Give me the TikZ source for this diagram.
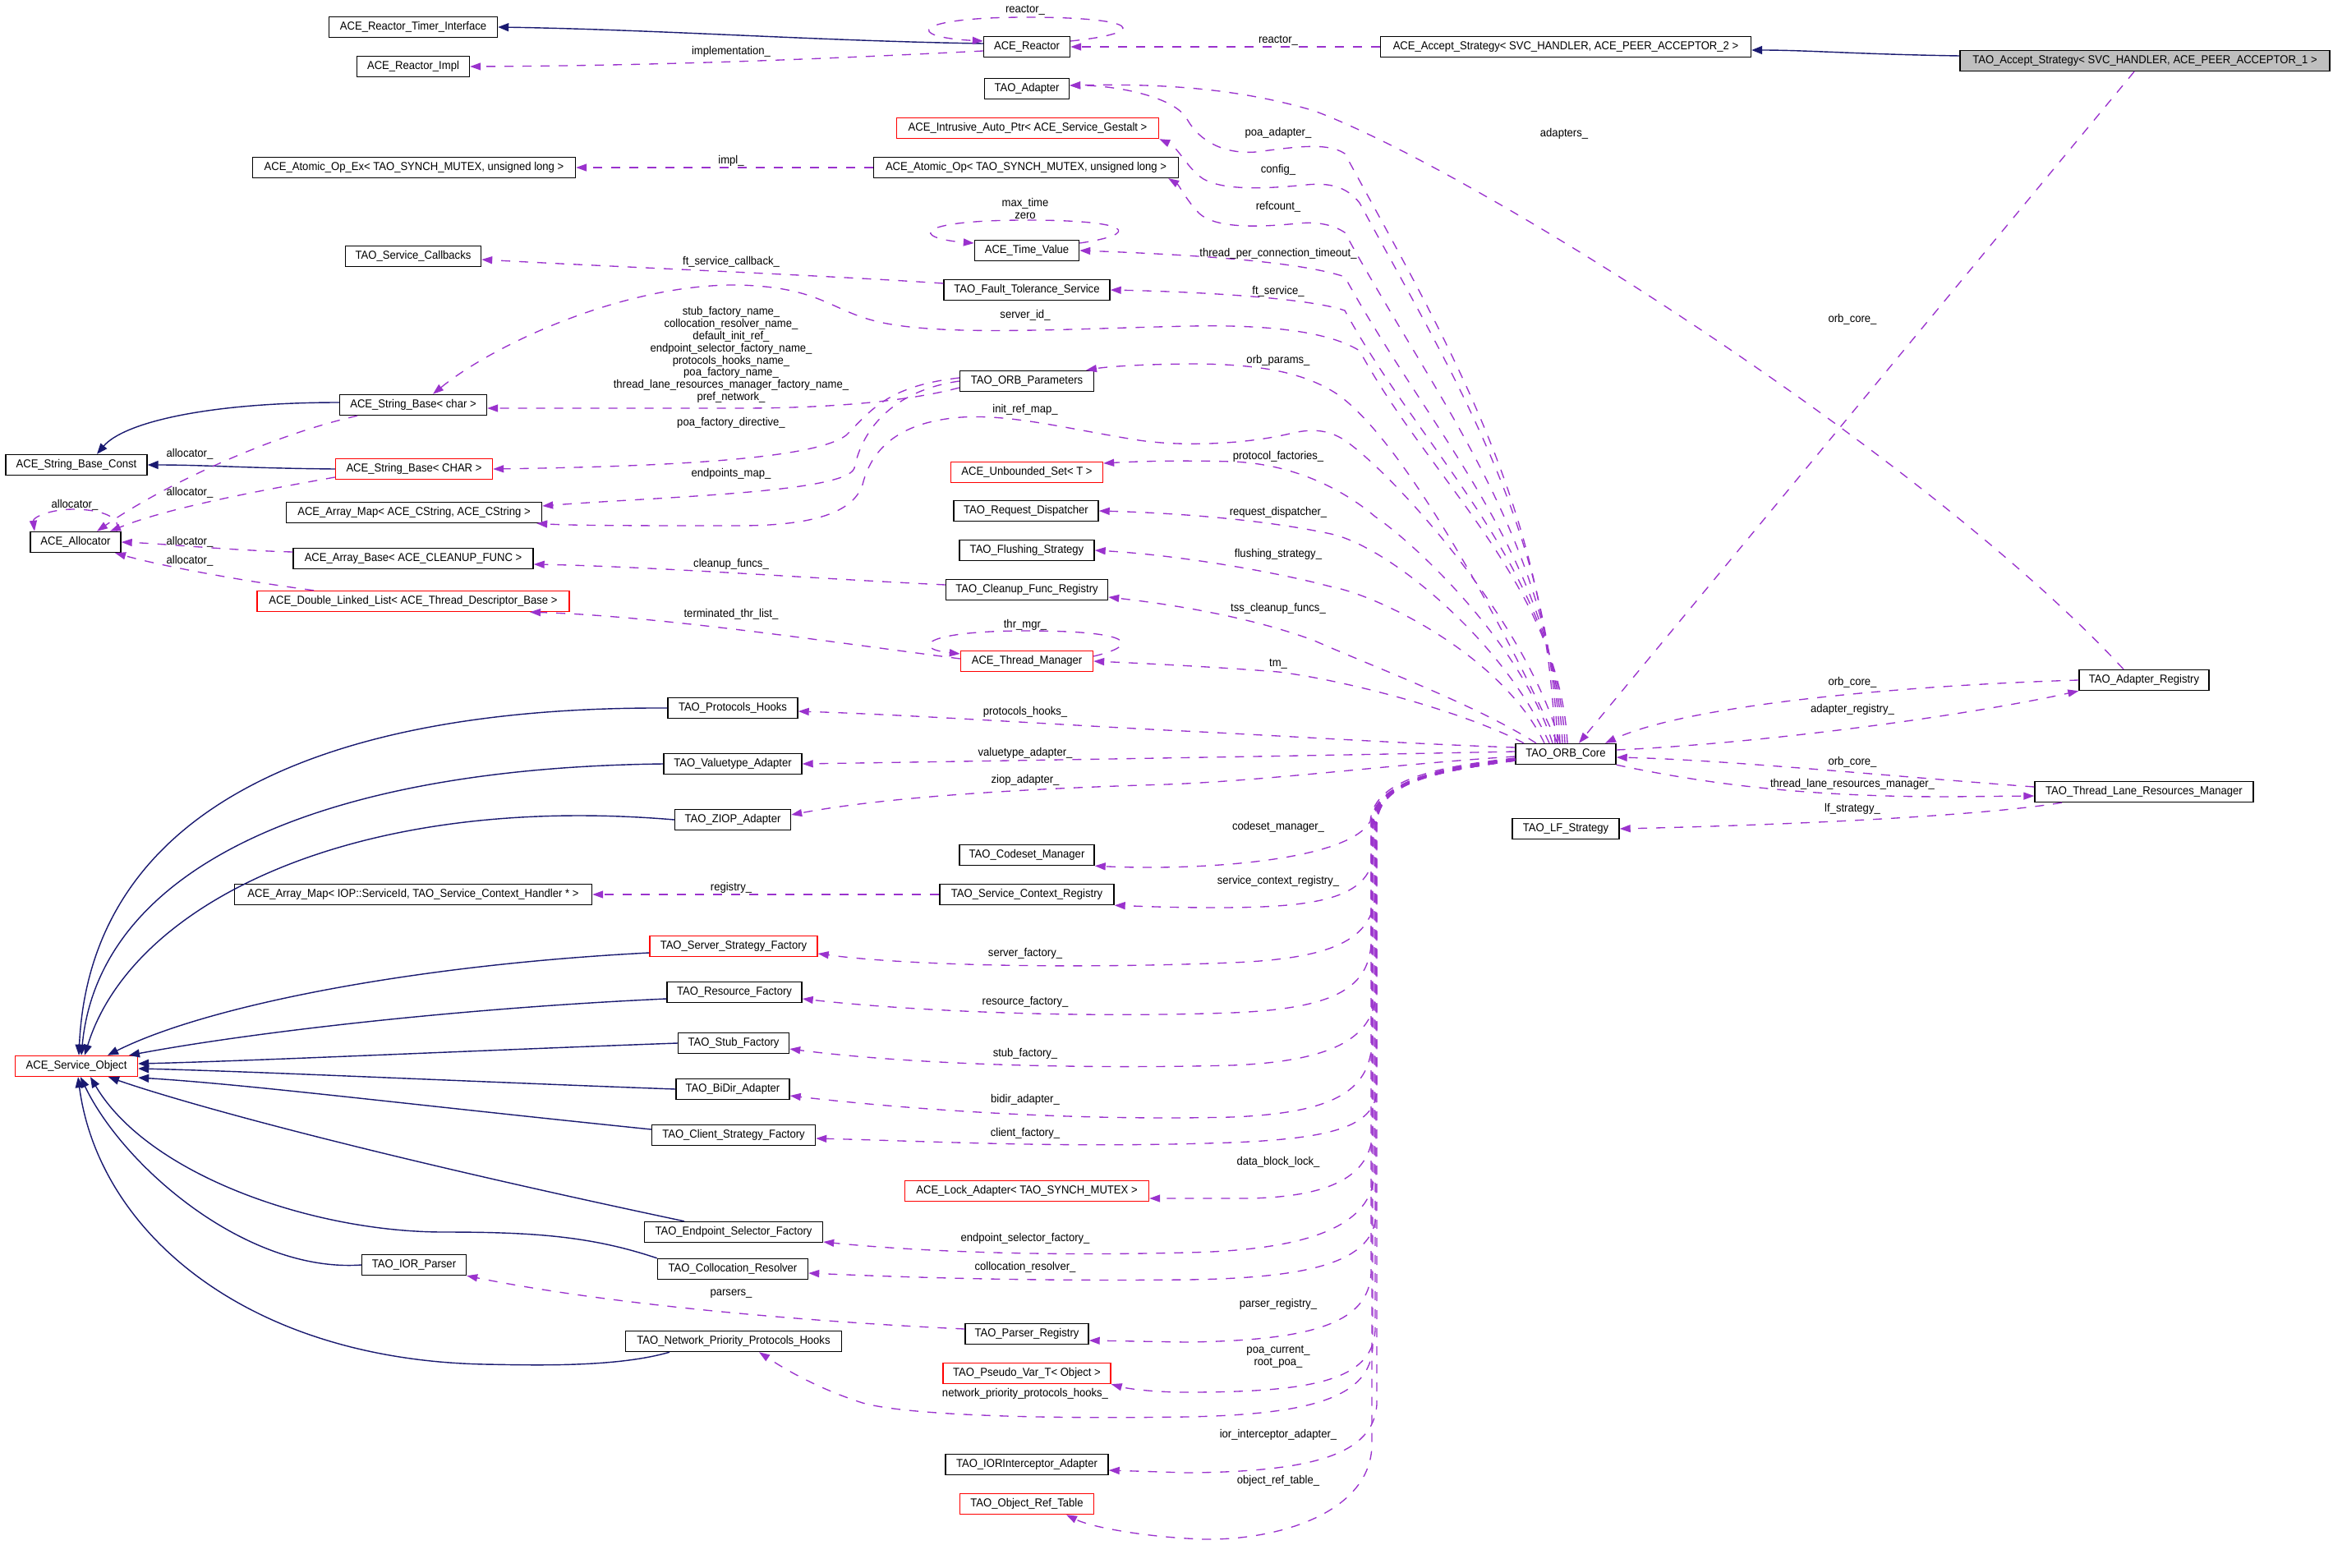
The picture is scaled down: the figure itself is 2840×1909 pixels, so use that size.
\documentclass[tikz,border=0pt]{standalone}
\usepackage{fontspec}
\newfontfamily\dxfont{Liberation Sans}[FakeStretch=0.93]
\usepackage{xcolor}
\definecolor{edgepurple}{HTML}{9A32CD}
\definecolor{dxnavy}{HTML}{191970}
\definecolor{boxred}{HTML}{FF0000}
\definecolor{focusgray}{HTML}{BFBFBF}
\usepackage{tikz}
\usetikzlibrary{arrows.meta}
\tikzset{
    cls/.style = {rectangle, draw=black, fill=white, line width=0.4pt,
                  minimum height=2.5mm, inner xsep=1mm, inner ysep=0pt,
                  font=\dxfont\fontsize{4}{4.2}\selectfont},
    clsred/.style = {cls, draw=boxred},
    clsfocus/.style = {cls, fill=focusgray},
    lbl/.style = {inner sep=0pt, align=center, font=\dxfont\fontsize{4}{4.2}\selectfont},
    member/.style = {draw=edgepurple, line width=0.38pt, dash pattern=on 1.1mm off 1.1mm,
                     -{Triangle[length=1.3mm, width=0.9mm]}},
    inherit/.style = {draw=dxnavy, line width=0.4pt, -{Triangle[length=1.3mm, width=1mm]}},
}

\begin{document}
\begin{tikzpicture}[x=0.1mm, y=-0.1mm]
        \fill[white] (0,0) rectangle (2840,1909);
        \useasboundingbox (0,0) rectangle (2840,1909);
        % top block
        \node[cls, minimum width=20.5mm] (timer) at (503,33) {ACE\_Reactor\_Timer\_Interface};
        \node[cls, minimum width=13.7mm] (rimpl) at (503,81) {ACE\_Reactor\_Impl};
        \node[cls, minimum width=10.5mm] (reactor) at (1250,57) {ACE\_Reactor};
        \node[cls, minimum width=45.1mm] (acceptace) at (1906,57) {ACE\_Accept\_Strategy< SVC\_HANDLER, ACE\_PEER\_ACCEPTOR\_2 >};
        \node[clsfocus, minimum width=45mm] (accepttao) at (2611,74) {TAO\_Accept\_Strategy< SVC\_HANDLER, ACE\_PEER\_ACCEPTOR\_1 >};
        \node[cls, minimum width=10.3mm] (adapter) at (1250,108) {TAO\_Adapter};
        \node[clsred, minimum width=31.9mm] (autoptr) at (1251,156) {ACE\_Intrusive\_Auto\_Ptr< ACE\_Service\_Gestalt >};
        \node[cls, minimum width=39.3mm] (atomicex) at (504,204) {ACE\_Atomic\_Op\_Ex< TAO\_SYNCH\_MUTEX, unsigned long >};
        \node[cls, minimum width=37.1mm] (atomic) at (1249,204) {ACE\_Atomic\_Op< TAO\_SYNCH\_MUTEX, unsigned long >};
        \node[cls, minimum width=12.7mm] (timeval) at (1250,305) {ACE\_Time\_Value};
        \node[cls, minimum width=16.5mm] (svccb) at (503,312) {TAO\_Service\_Callbacks};
        \node[cls, minimum width=20.2mm] (ftsvc) at (1250,353) {TAO\_Fault\_Tolerance\_Service};
        \node[cls, minimum width=16.3mm] (orbparams) at (1250,464) {TAO\_ORB\_Parameters};
        % strings and allocator
        \node[cls, minimum width=17.9mm] (strchar) at (503,493) {ACE\_String\_Base< char >};
        \node[cls, minimum width=17.2mm] (strconst) at (93,566) {ACE\_String\_Base\_Const};
        \node[clsred, minimum width=19.1mm] (strCHAR) at (504,571) {ACE\_String\_Base< CHAR >};
        \node[cls, minimum width=31.1mm] (amapstr) at (504,624) {ACE\_Array\_Map< ACE\_CString, ACE\_CString >};
        \node[cls, minimum width=11mm] (alloc) at (92,660) {ACE\_Allocator};
        \node[cls, minimum width=29.2mm] (abase) at (503,680) {ACE\_Array\_Base< ACE\_CLEANUP\_FUNC >};
        \node[clsred, minimum width=38mm] (dll) at (503,732) {ACE\_Double\_Linked\_List< ACE\_Thread\_Descriptor\_Base >};
        \node[clsred, minimum width=18.5mm] (uset) at (1250,575) {ACE\_Unbounded\_Set< T >};
        \node[cls, minimum width=17.6mm] (reqdisp) at (1249,622) {TAO\_Request\_Dispatcher};
        \node[cls, minimum width=16.4mm] (flush) at (1250,670) {TAO\_Flushing\_Strategy};
        \node[cls, minimum width=19.7mm] (cleanup) at (1250,718) {TAO\_Cleanup\_Func\_Registry};
        \node[clsred, minimum width=16.1mm] (thrmgr) at (1250,805) {ACE\_Thread\_Manager};
        % core and right side
        \node[cls, minimum width=12.2mm] (core) at (1906,918) {TAO\_ORB\_Core};
        \node[cls, minimum width=15.8mm] (adreg) at (2610,828) {TAO\_Adapter\_Registry};
        \node[cls, minimum width=26.6mm] (tlrm) at (2610,964) {TAO\_Thread\_Lane\_Resources\_Manager};
        \node[cls, minimum width=13mm] (lfstrat) at (1906,1009) {TAO\_LF\_Strategy};
        % service objects
        \node[cls, minimum width=15.8mm] (prothooks) at (892,862) {TAO\_Protocols\_Hooks};
        \node[cls, minimum width=16.8mm] (valuetype) at (892,930) {TAO\_Valuetype\_Adapter};
        \node[cls, minimum width=14.1mm] (ziop) at (892,998) {TAO\_ZIOP\_Adapter};
        \node[cls, minimum width=16.4mm] (codeset) at (1250,1041) {TAO\_Codeset\_Manager};
        \node[cls, minimum width=43.5mm] (amapiop) at (503,1089) {ACE\_Array\_Map< IOP::ServiceId, TAO\_Service\_Context\_Handler * >};
        \node[cls, minimum width=21.2mm] (screg) at (1250,1089) {TAO\_Service\_Context\_Registry};
        \node[clsred, minimum width=20.4mm] (ssfact) at (893,1152) {TAO\_Server\_Strategy\_Factory};
        \node[cls, minimum width=16.4mm] (resfact) at (894,1208) {TAO\_Resource\_Factory};
        \node[cls, minimum width=13.5mm] (stubfact) at (893,1270) {TAO\_Stub\_Factory};
        \node[clsred, minimum width=14.9mm] (svcobj) at (93,1298) {ACE\_Service\_Object};
        \node[cls, minimum width=13.8mm] (bidir) at (892,1326) {TAO\_BiDir\_Adapter};
        \node[cls, minimum width=19.9mm] (csfact) at (893,1382) {TAO\_Client\_Strategy\_Factory};
        \node[clsred, minimum width=29.7mm] (lockad) at (1250,1450) {ACE\_Lock\_Adapter< TAO\_SYNCH\_MUTEX >};
        \node[cls, minimum width=21.7mm] (esfact) at (893,1500) {TAO\_Endpoint\_Selector\_Factory};
        \node[cls, minimum width=18.3mm] (colres) at (892,1545) {TAO\_Collocation\_Resolver};
        \node[cls, minimum width=12.7mm] (iorparser) at (504,1540) {TAO\_IOR\_Parser};
        \node[cls, minimum width=15mm] (parsreg) at (1250,1624) {TAO\_Parser\_Registry};
        \node[cls, minimum width=26.3mm] (nphooks) at (893,1633) {TAO\_Network\_Priority\_Protocols\_Hooks};
        \node[clsred, minimum width=20.4mm] (pseudovar) at (1250,1672) {TAO\_Pseudo\_Var\_T< Object >};
        \node[cls, minimum width=19.8mm] (iorinterc) at (1250,1783) {TAO\_IORInterceptor\_Adapter};
        \node[clsred, minimum width=16.3mm] (objref) at (1250,1831) {TAO\_Object\_Ref\_Table};

        % inheritance
        \draw[inherit] ([yshift=.4mm]reactor.west) .. controls (1000,50) and (800,36) .. (timer.east);
        \draw[inherit] ([yshift=.6mm]accepttao.west) .. controls (2260,66) and (2200,61) .. ([yshift=-.4mm]acceptace.east);
        \draw[inherit] ([yshift=.3mm]strchar.west) .. controls (250,490) and (150,515) .. ([xshift=2.5mm]strconst.north);
        \draw[inherit] (strCHAR.west) .. controls (300,570) and (250,566) .. (strconst.east);
        \draw[inherit] (prothooks.west) .. controls (400,860) and (110,980) .. ([xshift=.3mm]svcobj.north);
        \draw[inherit] (valuetype.west) .. controls (380,935) and (120,1060) .. ([xshift=.6mm]svcobj.north);
        \draw[inherit] (ziop.west) .. controls (430,965) and (160,1100) .. ([xshift=1mm]svcobj.north);
        \draw[inherit] ([yshift=-.8mm]ssfact.west) .. controls (500,1175) and (250,1225) .. ([xshift=3.8mm]svcobj.north);
        \draw[inherit] ([yshift=-.8mm]resfact.west) .. controls (550,1228) and (300,1258) .. ([xshift=6.4mm]svcobj.north);
        \draw[inherit] (stubfact.west) .. controls (600,1278) and (300,1292) .. ([yshift=.3mm]svcobj.east);
        \draw[inherit] (bidir.west) .. controls (600,1318) and (300,1304) .. ([yshift=-.3mm]svcobj.east);
        \draw[inherit] ([yshift=.7mm]csfact.west) .. controls (500,1345) and (300,1320) .. ([yshift=-1.4mm]svcobj.east);
        \draw[inherit] ([xshift=-6mm]esfact.north) .. controls (400,1395) and (200,1335) .. ([xshift=3.9mm]svcobj.south);
        \draw[inherit] (colres.north west) .. controls (720,1505) and (650,1500) .. (540,1500) .. controls (380,1500) and (180,1430) .. ([xshift=1.7mm]svcobj.south);
        \draw[inherit] (iorparser.west) .. controls (300,1550) and (150,1420) .. ([xshift=.5mm]svcobj.south);
        \draw[inherit] ([xshift=-7.8mm]nphooks.south) .. controls (750,1665) and (650,1662) .. (590,1661) .. controls (300,1655) and (120,1500) .. ([xshift=.2mm]svcobj.south);

        % members, top block
        \draw[member] ([yshift=.7mm]reactor.east) .. controls (1400,40) and (1390,21) .. (1250,21) .. controls (1110,21) and (1100,45) .. ([yshift=.7mm]reactor.west);
        \draw[member] ([yshift=-.5mm]reactor.west) .. controls (1000,72) and (800,80) .. (rimpl.east);
        \draw[member] (acceptace.west) -- (reactor.east);
        \draw[member] (atomic.west) -- (atomicex.east);
        \draw[member] ([yshift=.9mm]timeval.east) .. controls (1390,285) and (1380,268) .. (1250,268) .. controls (1110,268) and (1110,290) .. ([yshift=.9mm]timeval.west);
        \draw[member] ([yshift=.8mm]ftsvc.west) .. controls (1000,335) and (750,325) .. ([yshift=-.4mm]svccb.east);
        \draw[member] ([yshift=-.8mm]orbparams.west) .. controls (1100,490) and (1000,497) .. (900,497) -- ([yshift=-.4mm]strchar.east);
        \draw[member] ([yshift=.4mm]orbparams.west) .. controls (1080,470) and (1060,500) .. (1030,530) .. controls (990,560) and (800,568) .. (strCHAR.east);
        \draw[member] (orbparams.west) .. controls (1090,475) and (1050,520) .. (1040,570) .. controls (1030,600) and (800,605) .. ([yshift=.8mm]amapstr.east);
        % allocator
        \draw[member] ([xshift=-6.8mm]strchar.south) .. controls (330,530) and (200,590) .. ([xshift=2.6mm]alloc.north);
        \draw[member] ([yshift=-1mm]strCHAR.west) .. controls (300,600) and (200,620) .. ([xshift=4.2mm]alloc.north);
        \draw[member] ([xshift=5mm]alloc.north) .. controls (150,625) and (110,620) .. (90,620) .. controls (60,620) and (40,630) .. ([xshift=-5mm]alloc.north);
        \draw[member] ([yshift=.8mm]abase.west) .. controls (280,670) and (200,662) .. (alloc.east);
        \draw[member] ([xshift=-12.1mm]dll.north) .. controls (300,708) and (200,690) .. ([xshift=4.8mm]alloc.south);
        \draw[member] ([yshift=.6mm]cleanup.west) .. controls (1000,705) and (800,690) .. ([yshift=-.7mm]abase.east);
        \draw[member] ([yshift=.3mm]thrmgr.west) .. controls (1000,780) and (800,750) .. ([xshift=14.2mm]dll.south);
        \draw[member] ([yshift=.6mm]thrmgr.east) .. controls (1390,785) and (1380,768) .. (1250,768) .. controls (1120,768) and (1110,790) .. ([yshift=.9mm]thrmgr.west);
        \draw[member] (screg.west) -- (amapiop.east);
        \draw[member] ([yshift=.6mm]parsreg.west) .. controls (1000,1610) and (750,1590) .. (iorparser.south east);

        % core upwards
        \draw[member] ([xshift=-1.3mm]core.north) .. controls (1883,618) and (1766,424) .. (1637,187) .. controls (1615,172) and (1570,180) .. (1529,185) .. controls (1490,188) and (1460,172) .. (1445,145) .. controls (1430,118) and (1360,104) .. ([yshift=.4mm]adapter.east);
        \draw[member] ([xshift=-1mm]core.north) .. controls (1886,642) and (1773,464) .. (1655,247) .. controls (1640,228) and (1620,222) .. (1590,225) .. controls (1540,230) and (1490,232) .. (1465,218) .. controls (1445,205) and (1435,180) .. (autoptr.south east);
        \draw[member] ([xshift=-.7mm]core.north) .. controls (1889,656) and (1749,488) .. (1637,283) .. controls (1620,272) and (1600,270) .. (1580,272) .. controls (1530,277) and (1480,278) .. (1460,260) .. controls (1445,245) and (1435,225) .. ([xshift=-1.3mm]atomic.south east);
        \draw[member] ([xshift=-.4mm]core.north) .. controls (1892,678) and (1739,524) .. (1637,337) .. controls (1580,318) and (1450,310) .. (timeval.east);
        \draw[member] ([xshift=-.1mm]core.north) .. controls (1895,694) and (1732,552) .. (1637,378) .. controls (1590,362) and (1450,355) .. (ftsvc.east);
        \draw[member] ([xshift=.2mm]core.north) .. controls (1898,714) and (1741,585) .. (1655,427) .. controls (1620,405) and (1550,395) .. (1450,397) .. controls (1300,400) and (1150,410) .. (1070,392) .. controls (1010,378) and (1000,350) .. (900,347) .. controls (760,345) and (600,420) .. ([xshift=2.4mm]strchar.north);
        \draw[member] ([xshift=-1mm]core.north) .. controls (1830,760) and (1700,520) .. (1620,475) .. controls (1580,452) and (1530,444) .. (1460,443) .. controls (1400,443) and (1350,446) .. ([xshift=7.2mm]orbparams.north);
        \draw[member] ([xshift=-.7mm]core.north) .. controls (1860,760) and (1700,580) .. (1637,536) .. controls (1615,522) and (1595,522) .. (1570,528) .. controls (1520,540) and (1440,545) .. (1380,535) .. controls (1300,522) and (1230,504) .. (1170,508) .. controls (1090,514) and (1060,550) .. (1050,590) .. controls (1040,620) and (1000,640) .. (900,640) .. controls (780,640) and (700,640) .. ([xshift=-.7mm]amapstr.south east);
        \draw[member] ([xshift=-1.6mm]core.north) .. controls (1850,780) and (1720,660) .. (1674,629) .. controls (1640,600) and (1580,565) .. (1500,562) .. controls (1430,560) and (1380,562) .. ([yshift=1.1mm]uset.east);
        \draw[member] ([xshift=-2mm]core.north) .. controls (1830,780) and (1690,665) .. (1620,650) .. controls (1550,635) and (1450,625) .. (reqdisp.east);
        \draw[member] ([xshift=-2.6mm]core.north) .. controls (1830,800) and (1680,725) .. (1619,714) .. controls (1560,698) and (1440,676) .. (flush.east);
        \draw[member] ([xshift=-3.6mm]core.north) .. controls (1800,860) and (1680,815) .. (1600,780) .. controls (1520,750) and (1420,735) .. ([yshift=-.9mm]cleanup.east);
        \draw[member] ([xshift=-5.1mm]core.north) .. controls (1790,870) and (1650,830) .. (1556,818) .. controls (1480,812) and (1400,808) .. (thrmgr.east);
        % core leftwards
        \draw[member] ([yshift=.8mm]core.west) .. controls (1700,905) and (1550,895) .. (1420,889) .. controls (1250,880) and (1100,870) .. ([yshift=-.4mm]prothooks.east);
        \draw[member] ([yshift=.3mm]core.west) .. controls (1600,920) and (1300,925) .. (valuetype.east);
        \draw[member] ([yshift=-.3mm]core.west) .. controls (1700,930) and (1550,950) .. (1420,955) .. controls (1250,960) and (1080,970) .. ([yshift=.6mm]ziop.east);
        % core downwards
        \draw[member] ([yshift=-.5mm]core.west) .. controls (1730,935) and (1672,955) .. (1668,1000) .. controls (1640,1050) and (1450,1060) .. (codeset.south east);
        \draw[member] ([yshift=-.6mm]core.west) .. controls (1740,935) and (1672,955) .. (1672,1005) -- (1672,1040) .. controls (1667,1095) and (1600,1105) .. (1480,1105) .. controls (1420,1105) and (1380,1103) .. (screg.south east);
        \draw[member] ([yshift=-.7mm]core.west) .. controls (1740,938) and (1674,955) .. (1674,1005) -- (1674,1090) .. controls (1670,1145) and (1620,1167) .. (1500,1172) .. controls (1300,1180) and (1100,1175) .. ([yshift=-.9mm]ssfact.east);
        \draw[member] ([yshift=-.8mm]core.west) .. controls (1740,940) and (1669,955) .. (1669,1005) -- (1669,1150) .. controls (1665,1205) and (1620,1228) .. (1500,1233) .. controls (1300,1240) and (1100,1230) .. ([yshift=-.8mm]resfact.east);
        \draw[member] ([yshift=-.6mm]core.west) .. controls (1740,936) and (1675,955) .. (1675,1005) -- (1675,1210) .. controls (1671,1265) and (1620,1292) .. (1500,1297) .. controls (1300,1302) and (1100,1295) .. ([yshift=-.7mm]stubfact.east);
        \draw[member] ([yshift=-.7mm]core.west) .. controls (1740,938) and (1670,955) .. (1670,1005) -- (1670,1270) .. controls (1667,1330) and (1620,1355) .. (1500,1360) .. controls (1300,1365) and (1100,1350) .. ([yshift=-.8mm]bidir.east);
        \draw[member] ([yshift=-.8mm]core.west) .. controls (1740,940) and (1676,955) .. (1676,1005) -- (1676,1330) .. controls (1671,1372) and (1620,1386) .. (1500,1391) .. controls (1300,1398) and (1150,1390) .. ([yshift=-.4mm]csfact.east);
        \draw[member] ([yshift=-.6mm]core.west) .. controls (1740,936) and (1671,955) .. (1671,1005) -- (1671,1380) .. controls (1667,1432) and (1620,1457) .. (1520,1459) -- ([yshift=-.9mm]lockad.east);
        \draw[member] ([yshift=-.7mm]core.west) .. controls (1740,938) and (1673,955) .. (1673,1005) -- (1673,1430) .. controls (1669,1490) and (1600,1522) .. (1444,1525) .. controls (1250,1530) and (1100,1522) .. ([yshift=-1.2mm]esfact.east);
        \draw[member] ([yshift=-.8mm]core.west) .. controls (1740,940) and (1675,955) .. (1675,1005) -- (1675,1480) .. controls (1671,1535) and (1600,1556) .. (1444,1558) .. controls (1250,1560) and (1100,1555) .. ([yshift=-.5mm]colres.east);
        \draw[member] ([yshift=-.6mm]core.west) .. controls (1740,936) and (1669,955) .. (1669,1005) -- (1669,1550) .. controls (1666,1610) and (1600,1632) .. (1444,1634) -- ([yshift=-.8mm]parsreg.east);
        \draw[member] ([yshift=-.7mm]core.west) .. controls (1740,938) and (1674,955) .. (1674,1005) -- (1674,1620) .. controls (1670,1680) and (1600,1695) .. (1444,1695) .. controls (1400,1695) and (1370,1690) .. (pseudovar.south east);
        \draw[member] ([yshift=-.8mm]core.west) .. controls (1740,940) and (1671,955) .. (1671,1005) -- (1671,1640) .. controls (1668,1700) and (1600,1722) .. (1444,1725) .. controls (1250,1728) and (1100,1722) .. (1050,1708) .. controls (1000,1692) and (960,1670) .. ([xshift=3.1mm]nphooks.south);
        \draw[member] ([yshift=-.6mm]core.west) .. controls (1740,936) and (1676,955) .. (1676,1005) -- (1676,1710) .. controls (1672,1770) and (1600,1792) .. (1444,1793) -- ([yshift=-.7mm]iorinterc.east);
        \draw[member] ([yshift=-.7mm]core.west) .. controls (1740,938) and (1670,955) .. (1670,1005) -- (1670,1760) .. controls (1668,1840) and (1560,1875) .. (1467,1874) .. controls (1400,1872) and (1330,1860) .. ([xshift=4.8mm]objref.south);
        % right side
        \draw[member] ([xshift=-1.3mm]accepttao.south) -- ([xshift=1.6mm]core.north);
        \draw[member] ([xshift=-2.5mm]adreg.north) .. controls (2350,560) and (1800,210) .. (1600,135) .. controls (1500,105) and (1400,102) .. ([yshift=.4mm]adapter.east);
        \draw[member] (adreg.west) .. controls (2300,835) and (2050,860) .. ([xshift=4.8mm]core.north);
        \draw[member] ([yshift=.5mm]core.east) .. controls (2150,905) and (2400,870) .. (adreg.south west);
        \draw[member] ([yshift=.6mm]tlrm.west) .. controls (2300,945) and (2100,925) .. ([yshift=-.4mm]core.east);
        \draw[member] (core.south east) .. controls (2080,955) and (2200,970) .. (2371,970) -- ([yshift=-.5mm]tlrm.west);
        \draw[member] ([xshift=-10mm]tlrm.south) .. controls (2400,995) and (2150,1005) .. (lfstrat.east);

        % labels
        \node[lbl] (lb1) at (1248,12) {reactor\_};
        \node[lbl] (lb2) at (890,63) {implementation\_};
        \node[lbl] (lb3) at (1556,49) {reactor\_};
        \node[lbl] (lb4) at (890,196) {impl\_};
        \node[lbl] (lb5) at (1556,162) {poa\_adapter\_};
        \node[lbl] (lb6) at (1904,163) {adapters\_};
        \node[lbl] (lb7) at (1556,207) {config\_};
        \node[lbl] (lb8) at (1556,252) {refcount\_};
        \node[lbl] (lb9) at (1248,254) {max\_time\\zero};
        \node[lbl] (lb10) at (1556,309) {thread\_per\_connection\_timeout\_};
        \node[lbl] (lb11) at (890,319) {ft\_service\_callback\_};
        \node[lbl] (lb12) at (1556,355) {ft\_service\_};
        \node[lbl] (lb13) at (1248,384) {server\_id\_};
        \node[lbl] (lb14) at (2255,389) {orb\_core\_};
        \node[lbl] (lb15) at (890,432) {stub\_factory\_name\_\\collocation\_resolver\_name\_\\default\_init\_ref\_\\endpoint\_selector\_factory\_name\_\\protocols\_hooks\_name\_\\poa\_factory\_name\_\\thread\_lane\_resources\_manager\_factory\_name\_\\pref\_network\_};
        \node[lbl] (lb16) at (1556,439) {orb\_params\_};
        \node[lbl] (lb17) at (1248,499) {init\_ref\_map\_};
        \node[lbl] (lb18) at (890,515) {poa\_factory\_directive\_};
        \node[lbl] (lb19) at (1556,556) {protocol\_factories\_};
        \node[lbl] (lb20) at (231,553) {allocator\_};
        \node[lbl] (lb21) at (890,577) {endpoints\_map\_};
        \node[lbl] (lb22) at (231,600) {allocator\_};
        \node[lbl] (lb23) at (91,615) {allocator\_};
        \node[lbl] (lb24) at (1556,624) {request\_dispatcher\_};
        \node[lbl] (lb25) at (231,660) {allocator\_};
        \node[lbl] (lb26) at (1556,675) {flushing\_strategy\_};
        \node[lbl] (lb27) at (231,683) {allocator\_};
        \node[lbl] (lb28) at (890,687) {cleanup\_funcs\_};
        \node[lbl] (lb29) at (1556,741) {tss\_cleanup\_funcs\_};
        \node[lbl] (lb30) at (890,748) {terminated\_thr\_list\_};
        \node[lbl] (lb31) at (1248,761) {thr\_mgr\_};
        \node[lbl] (lb32) at (1556,808) {tm\_};
        \node[lbl] (lb33) at (2255,831) {orb\_core\_};
        \node[lbl] (lb34) at (2255,864) {adapter\_registry\_};
        \node[lbl] (lb35) at (1248,867) {protocols\_hooks\_};
        \node[lbl] (lb36) at (1248,917) {valuetype\_adapter\_};
        \node[lbl] (lb37) at (2255,928) {orb\_core\_};
        \node[lbl] (lb38) at (1248,950) {ziop\_adapter\_};
        \node[lbl] (lb39) at (2255,955) {thread\_lane\_resources\_manager\_};
        \node[lbl] (lb40) at (2255,985) {lf\_strategy\_};
        \node[lbl] (lb41) at (1556,1007) {codeset\_manager\_};
        \node[lbl] (lb42) at (1556,1073) {service\_context\_registry\_};
        \node[lbl] (lb43) at (890,1081) {registry\_};
        \node[lbl] (lb44) at (1248,1161) {server\_factory\_};
        \node[lbl] (lb45) at (1248,1220) {resource\_factory\_};
        \node[lbl] (lb46) at (1248,1283) {stub\_factory\_};
        \node[lbl] (lb47) at (1248,1339) {bidir\_adapter\_};
        \node[lbl] (lb48) at (1248,1380) {client\_factory\_};
        \node[lbl] (lb49) at (1556,1415) {data\_block\_lock\_};
        \node[lbl] (lb50) at (1248,1508) {endpoint\_selector\_factory\_};
        \node[lbl] (lb51) at (1248,1543) {collocation\_resolver\_};
        \node[lbl] (lb52) at (890,1575) {parsers\_};
        \node[lbl] (lb53) at (1556,1588) {parser\_registry\_};
        \node[lbl] (lb54) at (1556,1652) {poa\_current\_\\root\_poa\_};
        \node[lbl] (lb55) at (1248,1697) {network\_priority\_protocols\_hooks\_};
        \node[lbl] (lb56) at (1556,1747) {ior\_interceptor\_adapter\_};
        \node[lbl] (lb57) at (1556,1803) {object\_ref\_table\_};
      \end{tikzpicture}
\end{document}
